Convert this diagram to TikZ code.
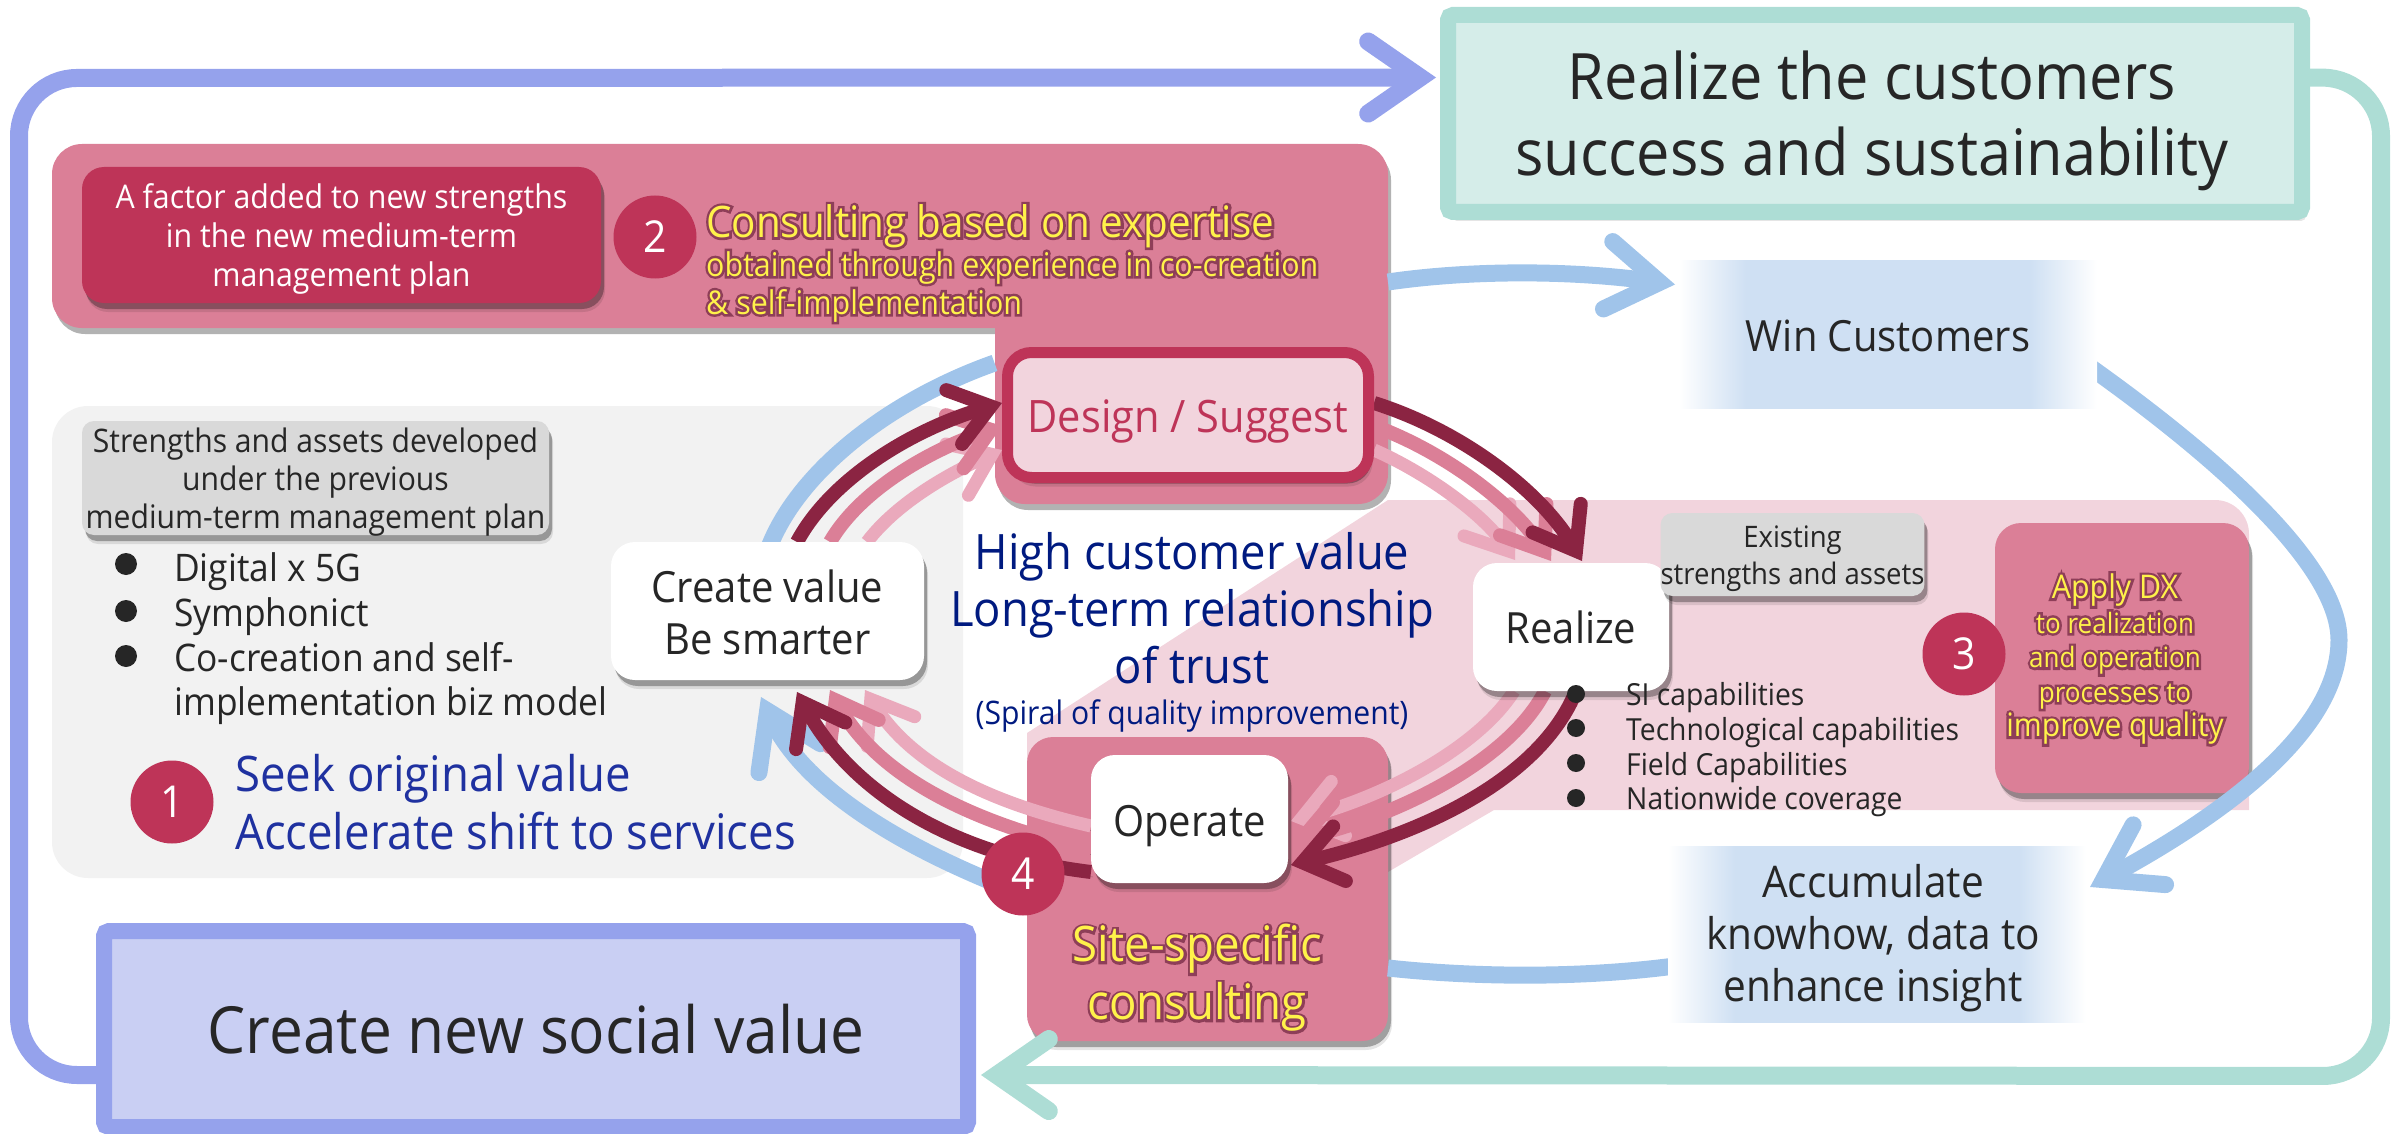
\documentclass[tikz,border=0pt]{standalone}
\usepackage{fontspec}
\setmainfont[FakeStretch=0.93]{Open Sans}
\usetikzlibrary{arrows.meta,calc,shadows}
\definecolor{purpleL}{HTML}{95A2EC}
\definecolor{purpleF}{HTML}{C9CFF3}
\definecolor{tealL}{HTML}{ADDDD5}
\definecolor{tealF}{HTML}{D5EDE9}
\definecolor{pinkM}{HTML}{DB7F97}
\definecolor{pinkL}{HTML}{F2D4DD}
\definecolor{pinkS}{HTML}{EAA9BC}
\definecolor{crim}{HTML}{BE3458}
\definecolor{wine}{HTML}{8B2442}
\definecolor{skyB}{HTML}{A0C4EA}
\definecolor{skyF}{HTML}{CFE0F3}
\definecolor{panelG}{HTML}{F2F2F2}
\definecolor{labelG}{HTML}{D9D9D9}
\definecolor{ink}{HTML}{262626}
\definecolor{navy}{HTML}{001A80}
\definecolor{royal}{HTML}{1F31A0}
\definecolor{yel}{HTML}{FFF24A}
\definecolor{halo}{HTML}{8E3E58}
\pgfdeclarehorizontalshading{fadeblue}{100bp}{color(0bp)=(white); color(25bp)=(white); color(33bp)=(skyF); color(67bp)=(skyF); color(75bp)=(white); color(100bp)=(white)}
\newcommand{\fsz}[2]{\fontsize{#1}{#2}\selectfont}
\newcommand{\glow}[1]{\leavevmode\rlap{\textcolor{halo}{\special{pdf:code 2 Tr 5 w}#1\special{pdf:code 0 Tr 1 w}}}\textcolor{yel}{#1}}
\newcommand{\nudge}[2]{\raisebox{#1}[\height][\depth]{\begin{tabular}{@{}c@{}}#2\end{tabular}}}
\pgfdeclarelayer{panels}
\pgfdeclarelayer{conns}
\pgfsetlayers{panels,conns,main}
\tikzset{
  softshadow/.style={drop shadow={shadow xshift=4pt,shadow yshift=-9pt,opacity=.10,fill=black},drop shadow={shadow xshift=3pt,shadow yshift=-6pt,opacity=.30,fill=black}},
  boxbase/.style={inner sep=0pt,outer sep=0pt,align=center},
  plainbox/.style={inner sep=0pt,outer sep=0pt},
  whitebox/.style={plainbox,fill=white,rounded corners=24pt,softshadow,text=ink,font=\fsz{43}{52}},
  labelbox/.style={plainbox,fill=labelG,rounded corners=12pt,softshadow,text=ink},
  panel/.style={boxbase,fill=pinkM,rounded corners=26pt},
  fadebox/.style={plainbox,shading=fadeblue,text=ink},
  numdot/.style={circle,fill=crim,text=white,minimum size=83pt,inner sep=0pt,font=\fsz{44}{50}},
  bulletdot/.style={circle,fill=ink,inner sep=0pt},
  linesh/.style={preaction={draw=black,draw opacity=.30,transform canvas={xshift=2pt,yshift=-5pt}}},
  frameline/.style={line width=18pt,rounded corners=58pt,line join=round,-{Straight Barb[length=52pt,width=72pt,line cap=round,line join=miter]},linesh},
  skyline/.style={draw=skyB,line width=17pt},
  skyarrow/.style={skyline,-{Straight Barb[length=52pt,width=68pt,line cap=round,line join=miter]}},
  ringtip/.style={-{Straight Barb[length=38pt,width=56pt,line cap=round,line join=miter]}},
  ringd/.style={draw=wine,line width=14pt,ringtip,linesh},
  ringm/.style={draw=pinkM,line width=14pt,ringtip,linesh},
  ringl/.style={draw=pinkS,line width=13pt,ringtip,linesh},
}
\begin{document}
\begin{tikzpicture}[x=1pt,y=-1pt]
\useasboundingbox (0,0) rectangle (2402,1134);
\clip (0,0) rectangle (2402,1134);
% ---------- panels
\begin{pgfonlayer}{panels}
\node[boxbase,fill=panelG,rounded corners=36pt,minimum width=911pt,minimum height=472pt] (graypanel) at (507.5,642) {};
\fill[pinkL,rounded corners=0pt] (1388,500) -- (2215,500) [rounded corners=34pt] -- (2249,500) [sharp corners] -- (2249,810) -- (1494,810) -- (1388,872) -- (1388,950) -- (1027,950) -- (1027,733) -- cycle;
\fill[pinkM,drop shadow={shadow xshift=3pt,shadow yshift=-6pt,opacity=.30,fill=black}] (520,144) [rounded corners=30pt] -- (1388,144) -- (1388,504) -- (995,504) [sharp corners] -- (995,328) [rounded corners=30pt] -- (52,328) -- (52,144) -- cycle;
\coordinate (toppanelexit) at (1388,282);
\node[panel,softshadow,minimum width=361pt,minimum height=304pt] (oppanel) at (1207.5,889) {};
\node[panel,softshadow,minimum width=254pt,minimum height=270pt] (dxpanel) at (2122,658) {};
\end{pgfonlayer}
% ---------- nodes
\node[plainbox,draw=tealL,fill=tealF,line width=16pt,rounded corners=5pt,softshadow,minimum width=854pt,minimum height=197pt,text=ink,font=\fsz{64}{76}] (teal) at (1875,113.5) {\hspace*{-6pt}\nudge{-9pt}{Realize the customers\\success and sustainability}};
\node[plainbox,draw=purpleL,fill=purpleF,line width=16pt,rounded corners=5pt,minimum width=864pt,minimum height=196pt,text=ink,font=\fsz{65}{72}] (social) at (536,1029) {Create new social value};
\node[plainbox,fill=crim,rounded corners=22pt,softshadow,minimum width=519pt,minimum height=136pt,text=white,font=\fsz{32.6}{39}] (factor) at (341.5,235) {\nudge{-5pt}{A factor added to new strengths\\in the new medium-term\\management plan}};
\node[numdot] (n2) at (655,237) {2};
\node[anchor=west,inner sep=0pt,font=\fsz{43.4}{50}] (consult) at (706,226) {\glow{Consulting based on expertise}};
\node[anchor=north west,inner sep=0pt,align=left,font=\fsz{32.7}{38}] (consultsub) at (706,251) {\glow{obtained through experience in co-creation}\\\glow{\& self-implementation}};
\node[plainbox,draw=crim,fill=pinkL,line width=11pt,rounded corners=24pt,softshadow,minimum width=361pt,minimum height=125pt,text=crim,font=\fsz{44.7}{50}] (design) at (1188,415) {\nudge{-7pt}{Design / Suggest}};
\node[whitebox,minimum width=196pt,minimum height=128pt] (realize) at (1571,627) {Realize};
\node[whitebox,minimum width=197pt,minimum height=128pt] (operate) at (1189.5,819) {\nudge{-7pt}{Operate}};
\node[whitebox,minimum width=313pt,minimum height=138pt] (create) at (767.5,611) {\nudge{-7pt}{Create value\\Be smarter}};
\node[fadebox,minimum width=418pt,minimum height=147pt,font=\fsz{43}{50}] (win) at (1888,334.5) {\nudge{-7pt}{Win Customers}};
\node[fadebox,minimum width=418pt,minimum height=176pt,font=\fsz{43.6}{52}] (accum) at (1877,934) {\hspace*{-8pt}\nudge{-5pt}{Accumulate\\knowhow, data to\\enhance insight}};
\node[labelbox,minimum width=467pt,minimum height=102pt,font=\fsz{32.4}{38}] (prevlabel) at (315.5,478) {\nudge{-5pt}{Strengths and assets developed\\under the previous\\medium-term management plan}};
\node[anchor=west,inner sep=0pt,align=left,text=ink,font=\fsz{38}{44.6}] (prevlist) at (174,639) {Digital x 5G\\Symphonict\\Co-creation and self-\\implementation biz model};
\foreach \n/\y in {b1/564,b2/611,b3/656}{\node[bulletdot,minimum size=22pt] (\n) at (126,\y) {};}
\node[numdot] (n1) at (172,802) {1};
\node[anchor=west,inner sep=0pt,align=left,text=royal,font=\fsz{49}{58}] (seek) at (235,802) {Seek original value\\Accelerate shift to services};
\node[inner sep=0pt,align=center,text=navy,font=\fsz{48.8}{57}] (high) at (1192,608) {High customer value\\Long-term relationship\\of trust};
\node[inner sep=0pt,text=navy,font=\fsz{32.4}{34}] (spiral) at (1192,716) {(Spiral of quality improvement)};
\node[labelbox,minimum width=261pt,minimum height=83pt,font=\fsz{29.6}{37}] (existing) at (1792.5,554.5) {\nudge{-4pt}{Existing\\strengths and assets}};
\node[anchor=west,inner sep=0pt,align=left,text=ink,font=\fsz{30.4}{34.7}] (existlist) at (1626,750) {SI capabilities\\Technological capabilities\\Field Capabilities\\Nationwide coverage};
\foreach \n/\y in {c1/694,c2/728,c3/763,c4b/798}{\node[bulletdot,minimum size=18pt] (\n) at (1576,\y) {};}
\node[numdot] (n3) at (1964,654) {3};
\node[inner sep=0pt,align=center,font=\fsz{28}{34.5}] (dxtext) at (2115,659) {{\fsz{32.6}{35}\glow{Apply DX}}\\\glow{to realization}\\\glow{and operation}\\\glow{processes to}\\{\fsz{32.3}{35}\glow{improve quality}}};
\node[numdot] (n4) at (1023,874) {4};
\node[inner sep=0pt,align=center,font=\fsz{49}{58}] (site) at (1197,978) {\glow{Site-specific}\\\glow{consulting}};
% ---------- connectors
\begin{pgfonlayer}{conns}
\draw[frameline,draw=purpleL] ($(social.west)+(0,46)$) -- (19,1075) -- (19,78) -- ($(teal.west)+(-12,-36)$);
\draw[frameline,draw=tealL] ($(teal.east)+(-6,-36)$) -- (2381,78) -- (2381,1076) -- ($(social.east)+(13,46)$);
% blue cycle
\draw[skyarrow] (toppanelexit) .. controls (1470,270) and (1570,270) .. ($(win.west)+(-4,-50)$);
\draw[skyarrow] ($(win.east)+(-9,31)$) .. controls (2200,445) and (2339,560) .. (2339,640) .. controls (2339,720) and (2250,800) .. ($(accum.east)+(4,-47)$);
\draw[skyline] ($(accum.west)+(14,31)$) .. controls (1590,978) and (1480,978) .. ($(oppanel.east)+(0,79)$);
\draw[skyarrow] ($(n4.west)+(6,6)$) .. controls (880,835) and (800,780) .. ($(create.south)+(-6.5,17)$);
\draw[skyline] ($(create.north)+(2,4)$) .. controls (800,470) and (890,400) .. ($(design.west)+(-13,-52)$);
% create -> design
\draw[ringl] ($(create.north)+(99.5,0)$) .. controls (895,505) and (945,475) .. ($(design.west)+(-5.5,35)$);
\draw[ringm] ($(create.north)+(62.5,0)$) .. controls (860,490) and (930,450) .. ($(design.west)+(-5.5,11)$);
\draw[ringd] ($(create.north)+(29.5,0)$) .. controls (830,480) and (910,430) .. ($(design.west)+(-5.5,-12)$);
% design -> realize
\draw[ringl] ($(design.east)+(5.5,35)$) .. controls (1420,470) and (1480,510) .. ($(realize.north)+(-56,-3)$);
\draw[ringm] ($(design.east)+(5.5,11)$) .. controls (1440,450) and (1510,500) .. ($(realize.north)+(-20,-2)$);
\draw[ringd] ($(design.east)+(5.5,-12)$) .. controls (1460,430) and (1540,490) .. ($(realize.north)+(11,-2)$);
% realize -> operate
\draw[ringl] ($(realize.south)+(-57,0)$) .. controls (1480,745) and (1390,795) .. ($(operate.east)+(3,2)$);
\draw[ringm] ($(realize.south)+(-26,0)$) .. controls (1510,760) and (1400,815) .. ($(operate.east)+(3,22)$);
\draw[ringd] ($(realize.south)+(5,0)$) .. controls (1540,780) and (1420,835) .. ($(operate.east)+(3,46)$);
% operate -> create
\draw[ringl] ($(operate.west)+(0,7)$) .. controls (1000,805) and (915,770) .. ($(create.south)+(97.5,10)$);
\draw[ringm] ($(operate.west)+(0,31)$) .. controls (980,825) and (880,780) .. ($(create.south)+(62.5,10)$);
\draw[ringd] ($(operate.west)+(0,53)$) .. controls (950,855) and (850,790) .. ($(create.south)+(29.5,12)$);
\end{pgfonlayer}
\end{tikzpicture}
\end{document}
